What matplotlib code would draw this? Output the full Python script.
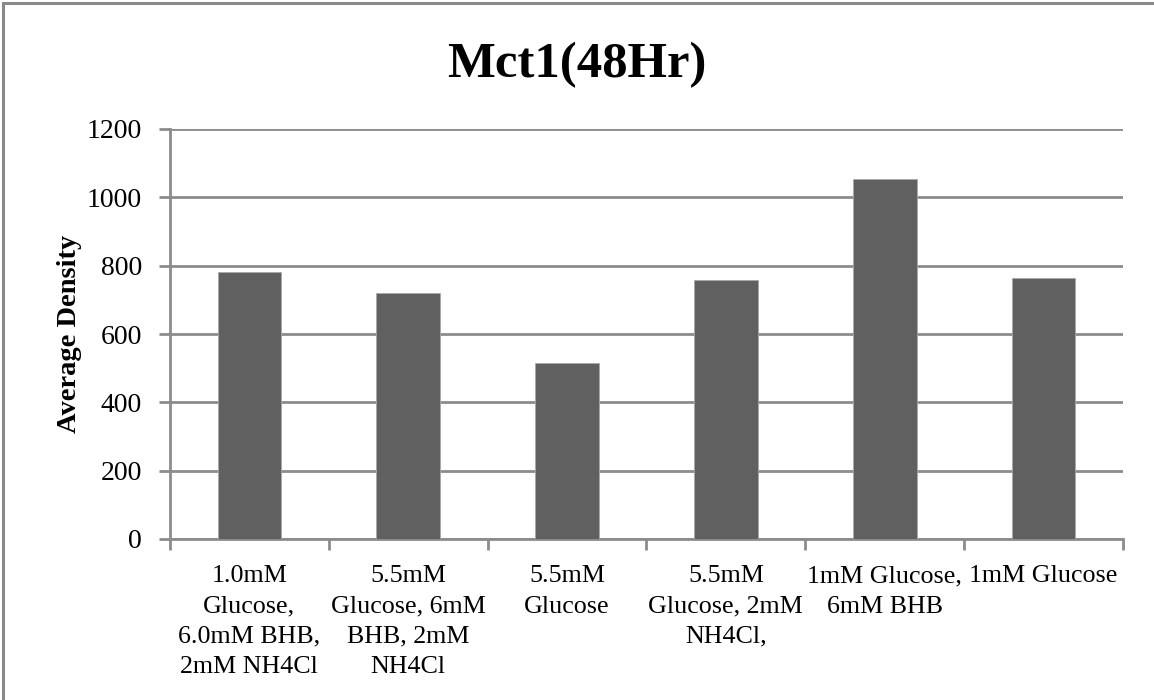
import matplotlib
matplotlib.use("Agg")
import matplotlib.pyplot as plt
from matplotlib.patches import Rectangle

# Data
categories = [
    "1.0mM\nGlucose,\n6.0mM BHB,\n2mM NH4Cl",
    "5.5mM\nGlucose, 6mM\nBHB, 2mM\nNH4Cl",
    "5.5mM\nGlucose",
    "5.5mM\nGlucose, 2mM\nNH4Cl,",
    "1mM Glucose,\n6mM BHB",
    "1mM Glucose",
]
values = [782, 719, 515, 757, 1055, 764]
y_ticks = [0, 200, 400, 600, 800, 1000, 1200]
title = "Mct1(48Hr)"
y_label = "Average Density"

plt.rcParams["font.family"] = ["Liberation Serif", "DejaVu Serif"]

fig = plt.figure(figsize=(11.54, 7.0), dpi=100)
fig.patch.set_facecolor("white")

# Outer chart frame
frame = Rectangle((3 / 1154, -0.05), 1.2, 1 - 3 / 700 + 0.05,
                  transform=fig.transFigure, fill=False,
                  edgecolor="#8a8a8a", linewidth=2.2, zorder=0)
fig.patches.append(frame)

ax = fig.add_axes([170 / 1154, 1 - 539 / 700, (1123 - 170) / 1154, (539 - 129) / 700])

grid_color = "#8c8c8c"
x = list(range(len(categories)))
ax.bar(x, values, width=0.4, color="#606060", edgecolor="#a8a8a8",
       linewidth=0.6, zorder=3)

ax.set_xlim(-0.5, len(categories) - 0.5)
ax.set_ylim(0, 1200)
ax.set_yticks(y_ticks)
ax.set_yticklabels([str(t) for t in y_ticks], fontsize=20)
ax.yaxis.grid(True, color=grid_color, linewidth=2.0, zorder=0)
ax.set_axisbelow(True)

# Category labels centred under bars, ticks on category boundaries
ax.set_xticks(x)
ax.set_xticklabels(categories, fontsize=18.7, linespacing=1.48)
ax.tick_params(axis="x", length=0, pad=19)
ax.set_xticks([i - 0.5 for i in range(len(categories) + 1)], minor=True)
ax.tick_params(axis="x", which="minor", length=8, width=2, color=grid_color,
               direction="out")
ax.tick_params(axis="y", length=8, width=2, color=grid_color, pad=12)

for side in ("top", "right"):
    ax.spines[side].set_visible(False)
for side in ("left", "bottom"):
    ax.spines[side].set_color(grid_color)
    ax.spines[side].set_linewidth(2.0)

ax.set_ylabel(y_label, fontsize=20.5, fontweight="bold")
ax.yaxis.set_label_coords((82 - 170) / (1123 - 170), 0.5)

fig.text(0.5, 1 - 65 / 700, title, ha="center", va="center",
         fontsize=36.5, fontweight="bold")

fig.savefig("out.png", dpi=100, facecolor="white")
